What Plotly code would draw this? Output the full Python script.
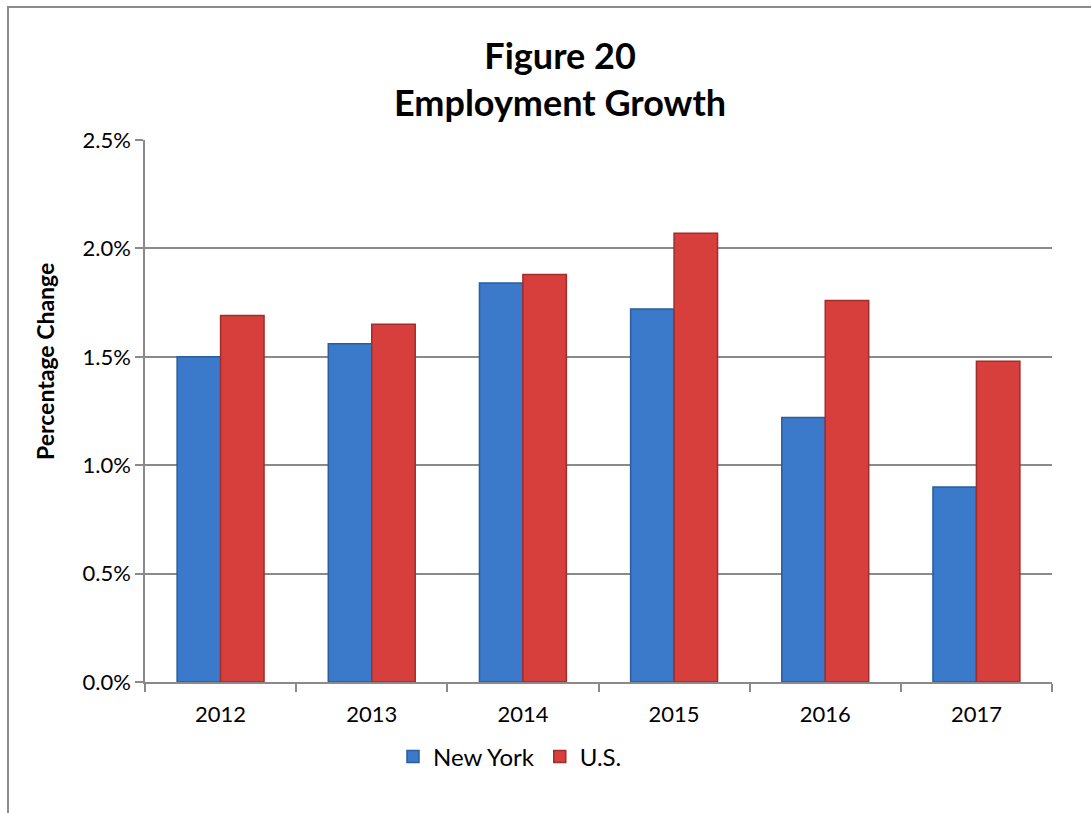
import plotly.graph_objects as go

# Annual employment growth, percent change
years = ["2012", "2013", "2014", "2015", "2016", "2017"]
new_york = [1.50, 1.56, 1.84, 1.72, 1.22, 0.90]
us = [1.69, 1.65, 1.88, 2.07, 1.76, 1.48]
y_ticks = [0.0, 0.5, 1.0, 1.5, 2.0, 2.5]
y_tick_text = ["0.0%", "0.5%", "1.0%", "1.5%", "2.0%", "2.5%"]
title_text = "Figure 20<br>Employment Growth"

W, H = 1091, 813
ML, MR, MT, MB = 145, 39, 140, 131
pw, ph = W - ML - MR, H - MT - MB

def px_x(x):
    return (x - ML) / pw

def px_y(y):
    return (H - MB - y) / ph

FONT = "Lato"
GRID = "#8a8a8a"

fig = go.Figure()
fig.add_trace(go.Bar(
    x=years, y=new_york, name="New York",
    marker=dict(color="#3b7acb", line=dict(color="#2b5c9c", width=1.5)),
))
fig.add_trace(go.Bar(
    x=years, y=us, name="U.S.",
    marker=dict(color="#d63f3b", line=dict(color="#a12c29", width=1.5)),
))

# outer frame (left and top edges)
fig.add_shape(
    type="path", xref="paper", yref="paper",
    path=f"M {px_x(8)} {px_y(820)} L {px_x(8)} {px_y(7)} L {px_x(1100)} {px_y(7)}",
    line=dict(color="#8c8c8c", width=2),
)

# two-line heading
fig.add_annotation(
    text=f"<b>{title_text}</b>", xref="paper", yref="paper",
    x=px_x(560), y=px_y(78), xanchor="center", yanchor="middle",
    showarrow=False, font=dict(family=FONT, size=36, color="black"),
)

# y-axis caption
fig.add_annotation(
    text="<b>Percentage Change</b>", xref="paper", yref="paper",
    x=px_x(45), y=px_y(362), xanchor="center", yanchor="middle",
    textangle=-90, showarrow=False,
    font=dict(family=FONT, size=23, color="black"),
)

fig.update_layout(
    width=W, height=H,
    margin=dict(l=ML, r=MR, t=MT, b=MB),
    paper_bgcolor="white", plot_bgcolor="white",
    barmode="group", bargap=0.425, bargroupgap=0,
    font=dict(family=FONT, color="black"),
    xaxis=dict(
        type="category", tickson="boundaries",
        ticks="outside", ticklen=8, tickcolor=GRID, tickwidth=1.5,
        showline=True, linecolor=GRID, linewidth=1.5,
        tickfont=dict(size=22, family=FONT),
        ticklabelstandoff=12,
        showgrid=False,
    ),
    yaxis=dict(
        range=[0, 2.5], tickvals=y_ticks, ticktext=y_tick_text,
        ticks="outside", ticklen=8, tickcolor=GRID, tickwidth=1.5,
        showline=True, linecolor=GRID, linewidth=1.5,
        showgrid=True, gridcolor=GRID, gridwidth=1.5,
        tickfont=dict(size=22, family=FONT),
        zeroline=False,
    ),
    legend=dict(
        orientation="h", x=px_x(510), xanchor="center",
        y=px_y(757), yanchor="middle",
        font=dict(size=24, family=FONT),
        itemwidth=30,
    ),
)

fig.write_html("out.html")
